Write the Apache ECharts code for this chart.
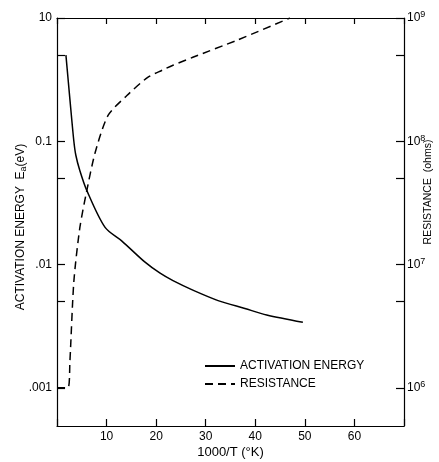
<!DOCTYPE html>
<html>
<head>
<meta charset="utf-8">
<script src="https://cdn.jsdelivr.net/npm/echarts@6/dist/echarts.min.js"></script>
<style>html,body{margin:0;padding:0;background:#fff;}#c{width:439px;height:462px;}</style>
</head>
<body>
<div id="c"></div>
<script>
// Activation energy (eV) vs 1000/T
const energyX = [1.8, 2.6, 3.4, 3.8, 4.6, 6.0, 9.7, 13.1, 17.7, 20.8, 23.4, 27.4, 32.5, 37.9, 42.3, 49.6];
const energyY = [0.5, 0.22, 0.1, 0.077, 0.058, 0.040, 0.020, 0.0155, 0.0105, 0.0085, 0.0074, 0.0062, 0.0051, 0.0044, 0.0039, 0.0034];
// Resistance (ohms) vs 1000/T
const resX = [0, 2.2, 2.6, 3.4, 4.6, 6.0, 7.7, 10.3, 14.1, 18.3, 21.2, 23.4, 27.4, 36.3, 47];
const resY = [1e6, 1e6, 1.63e6, 7.3e6, 1.98e7, 3.96e7, 8.1e7, 1.62e8, 2.35e8, 3.3e8, 3.77e8, 4.14e8, 4.8e8, 6.6e8, 1e9];
// Tick labels
const xTickLabels = ['10', '20', '30', '40', '50', '60'];
const leftTickValues = [0.001, 0.01, 0.1, 1];
const leftTickLabels = ['.001', '.01', '0.1', '10'];
const leftMinorTicks = [0.005, 0.05, 0.5];
const rightTickExp = [6, 7, 8, 9];
const rightMinorTicks = [5e6, 5e7, 5e8];

const FONT = 'Liberation Sans';
const energyData = energyX.map((x, i) => [x, energyY[i]]);
const resData = resX.map((x, i) => [x, resY[i]]);

const chart = echarts.init(document.getElementById('c'));
const axisLine = { show: true, onZero: false, lineStyle: { color: '#000', width: 1.2 } };
const tickStyle = { color: '#000', width: 1.2 };
chart.setOption({
  animation: false,
  backgroundColor: '#fff',
  grid: { left: 57, right: 35, top: 18, bottom: 36, containLabel: false, outerBoundsMode: 'none' },
  legend: {
    left: 199, top: 355, orient: 'vertical', itemWidth: 30, itemHeight: 10, itemGap: 6,
    textStyle: { fontFamily: FONT, fontSize: 12, color: '#000' },
    itemStyle: { opacity: 0 },
    data: ['ACTIVATION ENERGY', 'RESISTANCE']
  },
  xAxis: [{
    type: 'value', position: 'bottom', min: 0, max: 70, interval: 10,
    axisLine: axisLine, splitLine: { show: false },
    axisTick: { show: true, inside: true, length: 7, lineStyle: tickStyle },
    axisLabel: { show: true, margin: 5, fontFamily: FONT, fontSize: 12, color: '#000',
      formatter: v => (v > 0 && v < 70) ? xTickLabels[v / 10 - 1] : '' },
    name: '1000/T (°K)', nameLocation: 'middle', nameGap: 20, nameMoveOverlap: false,
    nameTextStyle: { fontFamily: FONT, fontSize: 13, color: '#000' }
  }, {
    type: 'value', position: 'top', min: 0, max: 70, interval: 10,
    axisLine: axisLine, splitLine: { show: false },
    axisTick: { show: true, inside: true, length: 6, lineStyle: tickStyle },
    axisLabel: { show: false }
  }],
  yAxis: [{
    type: 'log', position: 'left', min: 0.00049, max: 1,
    axisLine: axisLine, splitLine: { show: false },
    axisTick: { show: true, inside: true, length: 8, lineStyle: tickStyle,
      customValues: leftTickValues.concat(leftMinorTicks) },
    axisLabel: { show: true, margin: 5, fontFamily: FONT, fontSize: 12, color: '#000',
      customValues: leftTickValues,
      formatter: v => {
        const e = Math.round(Math.log10(v));
        const i = leftTickValues.findIndex(t => Math.round(Math.log10(t)) === e);
        return i >= 0 ? leftTickLabels[i] : '';
      } },
    name: 'ACTIVATION ENERGY  E{sub|a}(eV)', nameLocation: 'middle', nameGap: 29, nameRotate: 90, nameMoveOverlap: false,
    nameTextStyle: { fontFamily: FONT, fontSize: 12, color: '#000', padding: [0, 10, 0, 0],
      rich: { sub: { fontFamily: FONT, fontSize: 9, color: '#000', verticalAlign: 'bottom', padding: [5, 0, 0, 0] } } }
  }, {
    type: 'log', position: 'right', min: 4.9e5, max: 1e9,
    axisLine: axisLine, splitLine: { show: false },
    axisTick: { show: true, inside: true, length: 8, lineStyle: tickStyle,
      customValues: rightTickExp.map(e => Math.pow(10, e)).concat(rightMinorTicks) },
    axisLabel: { show: true, margin: 3, fontFamily: FONT, fontSize: 12, color: '#000',
      customValues: rightTickExp.map(e => Math.pow(10, e)),
      formatter: v => '10{sup|' + Math.round(Math.log10(v)) + '}',
      rich: { sup: { fontFamily: FONT, fontSize: 9, color: '#000', verticalAlign: 'top', padding: [0, 0, 6, 0] } } },
    name: 'RESISTANCE  (ohms)', nameLocation: 'middle', nameGap: 19, nameRotate: 90, nameMoveOverlap: false,
    nameTextStyle: { fontFamily: FONT, fontSize: 10.5, color: '#000', padding: [0, 0, 0, 60] }
  }],
  series: [{
    name: 'ACTIVATION ENERGY', type: 'line', xAxisIndex: 0, yAxisIndex: 0,
    data: energyData, showSymbol: false, symbol: 'none', smooth: 0.3,
    lineStyle: { color: '#000', width: 1.5, type: 'solid' }, itemStyle: { color: '#000' }
  }, {
    name: 'RESISTANCE', type: 'line', xAxisIndex: 0, yAxisIndex: 1,
    data: resData, showSymbol: false, symbol: 'none', smooth: 0.25,
    lineStyle: { color: '#000', width: 1.5, type: [8, 5] }, itemStyle: { color: '#000' }
  }]
});
</script>
</body>
</html>
